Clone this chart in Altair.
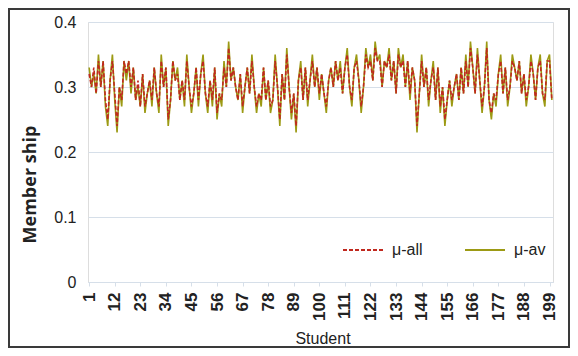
import altair as alt
import pandas as pd

students = list(range(1, 201))

mu_av = [
    0.33, 0.30, 0.32, 0.29, 0.35, 0.30, 0.34, 0.27, 0.24, 0.31,
    0.35, 0.28, 0.23, 0.30, 0.27, 0.34, 0.31, 0.34, 0.29, 0.33,
    0.28, 0.30, 0.27, 0.32, 0.26, 0.29, 0.31, 0.27, 0.33, 0.29,
    0.26, 0.35, 0.30, 0.33, 0.24, 0.28, 0.34, 0.31, 0.33, 0.28,
    0.31, 0.27, 0.35, 0.30, 0.26, 0.29, 0.33, 0.27, 0.32, 0.35,
    0.29, 0.26, 0.31, 0.27, 0.33, 0.25, 0.29, 0.27, 0.34, 0.30,
    0.37, 0.31, 0.33, 0.30, 0.28, 0.32, 0.26, 0.30, 0.33, 0.29,
    0.35, 0.30, 0.26, 0.29, 0.27, 0.33, 0.28, 0.31, 0.26, 0.28,
    0.35, 0.30, 0.24, 0.32, 0.28, 0.36, 0.30, 0.25, 0.29, 0.23,
    0.31, 0.34, 0.28, 0.33, 0.27, 0.31, 0.35, 0.30, 0.33, 0.28,
    0.32, 0.29, 0.26, 0.31, 0.33, 0.30, 0.34, 0.31, 0.34, 0.29,
    0.33, 0.36, 0.30, 0.27, 0.33, 0.35, 0.31, 0.26, 0.30, 0.36,
    0.33, 0.35, 0.31, 0.37, 0.34, 0.35, 0.30, 0.34, 0.33, 0.36,
    0.31, 0.34, 0.29, 0.36, 0.33, 0.35, 0.30, 0.34, 0.28, 0.33,
    0.31, 0.23, 0.29, 0.35, 0.30, 0.33, 0.27, 0.31, 0.34, 0.28,
    0.33, 0.26, 0.30, 0.24, 0.28, 0.31, 0.27, 0.30, 0.32, 0.28,
    0.33, 0.29, 0.35, 0.30, 0.37, 0.33, 0.29, 0.36, 0.31, 0.26,
    0.30, 0.37, 0.28, 0.25, 0.29, 0.27, 0.32, 0.35, 0.29, 0.33,
    0.27, 0.30, 0.35, 0.33, 0.31, 0.34, 0.29, 0.32, 0.27, 0.30,
    0.35, 0.32, 0.28, 0.33, 0.35, 0.29, 0.27, 0.34, 0.35, 0.28,
]

mu_all = [
    0.32, 0.30, 0.33, 0.29, 0.34, 0.30, 0.34, 0.28, 0.25, 0.31,
    0.34, 0.29, 0.24, 0.30, 0.28, 0.34, 0.32, 0.34, 0.30, 0.33,
    0.28, 0.31, 0.27, 0.32, 0.27, 0.29, 0.31, 0.28, 0.33, 0.29,
    0.27, 0.34, 0.30, 0.33, 0.25, 0.28, 0.34, 0.31, 0.32, 0.28,
    0.31, 0.28, 0.34, 0.30, 0.27, 0.29, 0.33, 0.28, 0.32, 0.34,
    0.29, 0.27, 0.31, 0.28, 0.33, 0.26, 0.29, 0.28, 0.33, 0.30,
    0.36, 0.31, 0.33, 0.30, 0.28, 0.32, 0.27, 0.30, 0.33, 0.29,
    0.34, 0.30, 0.27, 0.29, 0.28, 0.33, 0.28, 0.31, 0.27, 0.28,
    0.34, 0.30, 0.25, 0.32, 0.28, 0.35, 0.30, 0.26, 0.29, 0.24,
    0.31, 0.33, 0.28, 0.33, 0.28, 0.31, 0.34, 0.30, 0.33, 0.29,
    0.32, 0.29, 0.27, 0.31, 0.33, 0.30, 0.34, 0.31, 0.33, 0.29,
    0.33, 0.35, 0.30, 0.28, 0.33, 0.34, 0.31, 0.27, 0.30, 0.35,
    0.33, 0.34, 0.31, 0.36, 0.34, 0.34, 0.30, 0.34, 0.33, 0.35,
    0.31, 0.34, 0.29, 0.35, 0.33, 0.34, 0.30, 0.34, 0.29, 0.33,
    0.31, 0.24, 0.29, 0.34, 0.30, 0.33, 0.28, 0.31, 0.33, 0.28,
    0.33, 0.27, 0.30, 0.25, 0.28, 0.31, 0.28, 0.30, 0.32, 0.28,
    0.33, 0.29, 0.34, 0.30, 0.36, 0.33, 0.29, 0.35, 0.31, 0.27,
    0.30, 0.36, 0.28, 0.26, 0.29, 0.28, 0.32, 0.34, 0.29, 0.33,
    0.28, 0.30, 0.34, 0.33, 0.31, 0.34, 0.29, 0.32, 0.28, 0.30,
    0.34, 0.32, 0.28, 0.33, 0.34, 0.29, 0.28, 0.34, 0.34, 0.28,
]

series_names = ["μ-all", "μ-av"]
series_colors = ["#c0281e", "#9c9a14"]
tick_labels = [1, 12, 23, 34, 45, 56, 67, 78, 89, 100, 111, 122, 133, 144, 155, 166, 177, 188, 199]
y_ticks = [0, 0.1, 0.2, 0.3, 0.4]

df = pd.concat([
    pd.DataFrame({"Student": students, "Membership": mu_av, "Series": "μ-av", "order": 0}),
    pd.DataFrame({"Student": students, "Membership": mu_all, "Series": "μ-all", "order": 1}),
])

W, H = 465, 260
PL, PT, PR, PB = 80, 14, 17, 66
FONT = "Liberation Sans Narrow, Liberation Sans, Arial, sans-serif"
FONT2 = "Liberation Sans, Arial, sans-serif"

lines = alt.Chart(df).mark_line(strokeWidth=1.6).encode(
    x=alt.X("Student:Q",
            scale=alt.Scale(domain=[0.5, 200.5], nice=False, zero=False),
            axis=alt.Axis(values=tick_labels, labelAngle=-90, labelAlign="right",
                          labelBaseline="middle", labelFontSize=17, labelFontWeight="bold",
                          labelColor="#222222", labelPadding=6, labelFont=FONT2,
                          title="Student", titleFontSize=16, titleFontWeight="normal",
                          titleColor="#222222", titleFont=FONT, titleBaseline="middle",
                          titleY=56, titleX=W / 2 + 2,
                          grid=False, domainColor="#d6dfe9", tickColor="#d6dfe9",
                          tickSize=4, labelOverlap=False)),
    y=alt.Y("Membership:Q",
            scale=alt.Scale(domain=[0, 0.4], nice=False),
            axis=alt.Axis(values=y_ticks, format=".1~f", labelFontSize=16,
                          labelColor="#222222", labelPadding=12, labelFont=FONT,
                          title="Member ship", titleFontSize=18, titleFontWeight="bold",
                          titleColor="#222222", titleFont="Open Sans, sans-serif",
                          titleX=-58, titleY=162, titleAngle=270, titleAlign="center",
                          titleBaseline="middle",
                          domain=False, ticks=False,
                          gridColor="#d6dfe9", gridWidth=1)),
    color=alt.Color("Series:N",
                    scale=alt.Scale(domain=series_names, range=series_colors),
                    legend=alt.Legend(orient="none", legendX=254, legendY=207,
                                      direction="horizontal", title=None,
                                      symbolType="stroke", symbolSize=1600,
                                      symbolStrokeWidth=2, labelFontSize=16,
                                      labelFont=FONT, labelColor="#222222",
                                      columnPadding=38, labelOffset=8)),
    strokeDash=alt.StrokeDash("Series:N",
                              scale=alt.Scale(domain=series_names, range=[[4, 2], [1, 0]]),
                              legend=None),
    order=alt.Order("order:Q"),
    detail="Series:N",
)

border_df = pd.DataFrame({"a": [0]})
border = alt.Chart(border_df).mark_rect(fill=None, stroke="#3a3a3a", strokeWidth=2, clip=False).encode(
    x=alt.value(-PL + 1), x2=alt.value(W + PR - 1),
    y=alt.value(-PT + 1), y2=alt.value(H + PB - 1),
)

chart = alt.layer(lines, border).properties(
    width=W, height=H,
    padding={"left": PL, "top": PT, "right": PR, "bottom": PB},
    autosize=alt.AutoSizeParams(type="none"),
).configure_view(stroke=None).configure(background="white")

chart.save("out.html", embed_options={"renderer": "svg", "actions": False})
